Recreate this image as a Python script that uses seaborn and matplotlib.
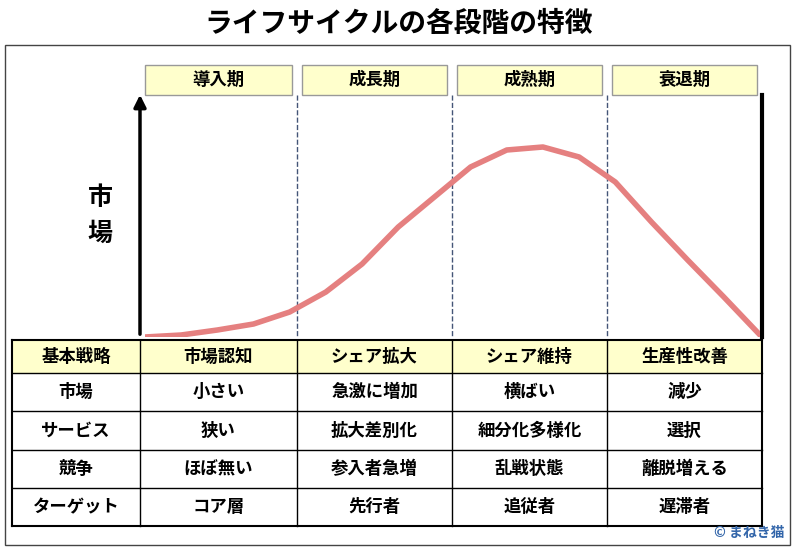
import numpy as np
import matplotlib.pyplot as plt
import seaborn as sns
import pandas as pd
from matplotlib.patches import Rectangle

plt.rcParams['font.family'] = 'Noto Sans CJK JP'

title = 'ライフサイクルの各段階の特徴'
phases = ['導入期', '成長期', '成熟期', '衰退期']
row_labels = ['基本戦略', '市場', 'サービス', '競争', 'ターゲット']
table = [
    ['市場認知', 'シェア拡大', 'シェア維持', '生産性改善'],
    ['小さい', '急激に増加', '横ばい', '減少'],
    ['狭い', '拡大差別化', '細分化多様化', '選択'],
    ['ほぼ無い', '参入者急増', '乱戦状態', '離脱増える'],
    ['コア層', '先行者', '追従者', '遅滞者'],
]
# market size along the life cycle
t = np.arange(18)
market = [0, 2, 7, 13, 25, 45, 73, 110, 140, 170, 187, 190, 180, 155, 115, 77, 40, 2]

fig = plt.figure(figsize=(7.98, 5.53), dpi=100)
bg = fig.add_axes([0, 0, 1, 1])
bg.set_xlim(0, 798)
bg.set_ylim(553, 0)
bg.axis('off')

bg.text(399, 24, title, ha='center', va='center', fontsize=20, fontweight='bold')
bg.add_patch(Rectangle((5, 45), 785, 500, fill=False, lw=1, ec='#444444'))

# phase headers
col_x = [140, 297, 452, 607, 762]
for i, p in enumerate(phases):
    x0, x1 = col_x[i] + 5, col_x[i + 1] - 5
    bg.add_patch(Rectangle((x0, 65), x1 - x0, 30, fc='#FFFFCC', ec='#999999', lw=1))
    bg.text((x0 + x1) / 2, 80, p, ha='center', va='center', fontsize=12.5, fontweight='bold')
for x in col_x[1:4]:
    bg.plot([x, x], [95, 337], ls='--', color='#445577', lw=1)
bg.plot([762, 762], [95, 337], color='black', lw=3)
bg.annotate('', xy=(140, 92), xytext=(140, 337),
            arrowprops=dict(arrowstyle='-|>', color='black', lw=2.5, mutation_scale=18))
bg.text(100, 198, '市', ha='center', va='center', fontsize=18, fontweight='bold')
bg.text(100, 234, '場', ha='center', va='center', fontsize=18, fontweight='bold')

# curve
ax = fig.add_axes([145 / 798, (553 - 337) / 553, 615 / 798, 242 / 553])
ax.patch.set_alpha(0)
df = pd.DataFrame({'t': t, 'market': market})
sns.lineplot(data=df, x='t', y='market', ax=ax, color='#E58080', lw=4)
ax.set_xlim(0, 17)
ax.set_ylim(0, 242)
ax.axis('off')

# table
row_y = [340, 373, 411, 450, 488, 526]
tab_x = [12] + col_x
bg.add_patch(Rectangle((12, 340), 750, 33, fc='#FFFFCC', ec='none'))
for y in row_y:
    bg.plot([12, 762], [y, y], color='black', lw=1.5 if y in (340, 526) else 1)
for x in tab_x:
    bg.plot([x, x], [340, 526], color='black', lw=1.5 if x in (12, 762) else 1)
for r in range(5):
    yc = (row_y[r] + row_y[r + 1]) / 2
    bg.text(76, yc, row_labels[r], ha='center', va='center', fontsize=12.5, fontweight='bold')
    for c in range(4):
        bg.text((tab_x[c + 1] + tab_x[c + 2]) / 2, yc, table[r][c],
                ha='center', va='center', fontsize=12.5, fontweight='bold')

bg.text(785, 533, '© まねき猫', ha='right', va='center', fontsize=10,
        fontweight='bold', color='#3366AA')

fig.savefig('out.png', dpi=100)
